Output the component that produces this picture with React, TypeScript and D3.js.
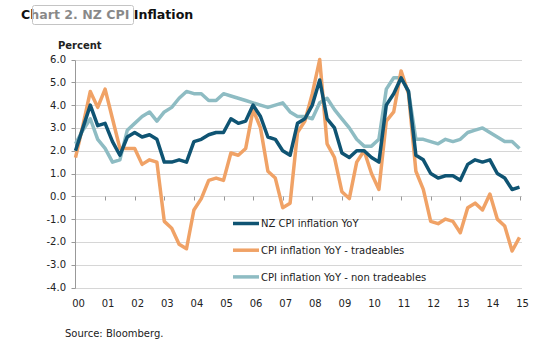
import React from "react";
import * as d3 from "d3";

// quarterly, 2000Q2 .. 2015Q2
const quarters = [
  "2000Q2", "2000Q3", "2000Q4",
  "2001Q1", "2001Q2", "2001Q3", "2001Q4",
  "2002Q1", "2002Q2", "2002Q3", "2002Q4",
  "2003Q1", "2003Q2", "2003Q3", "2003Q4",
  "2004Q1", "2004Q2", "2004Q3", "2004Q4",
  "2005Q1", "2005Q2", "2005Q3", "2005Q4",
  "2006Q1", "2006Q2", "2006Q3", "2006Q4",
  "2007Q1", "2007Q2", "2007Q3", "2007Q4",
  "2008Q1", "2008Q2", "2008Q3", "2008Q4",
  "2009Q1", "2009Q2", "2009Q3", "2009Q4",
  "2010Q1", "2010Q2", "2010Q3", "2010Q4",
  "2011Q1", "2011Q2", "2011Q3", "2011Q4",
  "2012Q1", "2012Q2", "2012Q3", "2012Q4",
  "2013Q1", "2013Q2", "2013Q3", "2013Q4",
  "2014Q1", "2014Q2", "2014Q3", "2014Q4",
  "2015Q1", "2015Q2",
];

const nzCpi = [
  2.0, 3.0, 4.0,
  3.1, 3.2, 2.4, 1.8,
  2.6, 2.8, 2.6, 2.7,
  2.5, 1.5, 1.5, 1.6,
  1.5, 2.4, 2.5, 2.7,
  2.8, 2.8, 3.4, 3.2,
  3.3, 4.0, 3.5, 2.6,
  2.5, 2.0, 1.8, 3.2,
  3.4, 4.0, 5.1, 3.4,
  3.0, 1.9, 1.7, 2.0,
  2.0, 1.7, 1.5, 4.0,
  4.5, 5.2, 4.6, 1.8,
  1.6, 1.0, 0.8, 0.9,
  0.9, 0.7, 1.4, 1.6,
  1.5, 1.6, 1.0, 0.8,
  0.3, 0.4,
];

const tradeables = [
  1.7, 3.1, 4.6,
  3.9, 4.7, 3.4, 2.1,
  2.1, 2.1, 1.4, 1.6,
  1.5, -1.1, -1.4, -2.1,
  -2.3, -0.6, -0.1, 0.7,
  0.8, 0.7, 1.9, 1.8,
  2.1, 3.8, 3.0, 1.1,
  0.8, -0.5, -0.3, 2.8,
  3.3, 4.5, 6.0, 2.3,
  1.7, 0.2, -0.1, 1.5,
  2.0, 1.0, 0.3, 3.3,
  3.7, 5.5, 4.5, 1.1,
  0.3, -1.1, -1.2, -1.0,
  -1.1, -1.6, -0.5, -0.3,
  -0.6, 0.1, -1.0, -1.3,
  -2.4, -1.8,
];

const nonTradeables = [
  2.3, 2.9, 3.4,
  2.5, 2.1, 1.5, 1.6,
  2.9, 3.2, 3.5, 3.7,
  3.3, 3.7, 3.9, 4.3,
  4.6, 4.5, 4.5, 4.2,
  4.2, 4.5, 4.4, 4.3,
  4.2, 4.1, 4.0, 3.9,
  4.0, 4.1, 3.7, 3.5,
  3.5, 3.4, 4.1, 4.3,
  3.8, 3.4, 3.0, 2.5,
  2.2, 2.2, 2.5, 4.7,
  5.2, 5.2, 4.6, 2.5,
  2.5, 2.4, 2.3, 2.5,
  2.4, 2.5, 2.8, 2.9,
  3.0, 2.8, 2.6, 2.4,
  2.4, 2.1,
];

const yearLabels = ["00", "01", "02", "03", "04", "05", "06", "07", "08", "09", "10", "11", "12", "13", "14", "15"];
const yTicks = [6, 5, 4, 3, 2, 1, 0, -1, -2, -3, -4];

const series = [
  { name: "NZ CPI inflation YoY", values: nzCpi, color: "#0f5473" },
  { name: "CPI inflation YoY - tradeables", values: tradeables, color: "#f0a266" },
  { name: "CPI inflation YoY - non tradeables", values: nonTradeables, color: "#8ebcc3" },
];

const font = "'DejaVu Sans', Verdana, sans-serif";

export default function App() {
  const left = 75.5;
  const right = 522;

  const x = d3.scalePoint<string>().domain(quarters).range([75.5, 519.5]);
  const y = d3.scaleLinear().domain([-4, 6]).range([287.5, 59.5]);
  const crisp = (v: number) => Math.round(v) + 0.5;

  const line = d3
    .line<number>()
    .x((_, i) => x(quarters[i]) as number)
    .y((d) => y(d));

  // year ticks sit on the Q2 point of each year
  const yearX = (yy: string) => x(`20${yy}Q2`) as number;

  return (
    <svg
      width={550}
      height={352}
      style={{ position: "absolute", left: 0, top: 0, background: "#fff" }}
      fontFamily={font}
    >
      {/* title */}
      <text x={21} y={18.5} fontSize={12.6} fontWeight="bold" fill="#111">
        Chart 2. NZ CPI Inflation
      </text>
      <rect x={32.5} y={5.5} width={101} height={19} rx={2} fill="#fff" fillOpacity={0.5} stroke="#c4c4c4" />

      <text x={58} y={49} fontSize={10} fontWeight="bold" fill="#222">
        Percent
      </text>

      {/* gridlines */}
      {yTicks.map((t) => (
        <line key={t} x1={left} x2={right} y1={crisp(y(t))} y2={crisp(y(t))} stroke="#d6d6d6" strokeWidth={1} />
      ))}
      {/* left axis */}
      <line x1={left} x2={left} y1={crisp(y(6))} y2={crisp(y(-4))} stroke="#999" />
      {yTicks.map((t) => (
        <g key={"yt" + t}>
          <line x1={left - 4} x2={left} y1={crisp(y(t))} y2={crisp(y(t))} stroke="#999" />
          <text x={66} y={y(t) + 3.5} fontSize={10} textAnchor="end" fill="#222">
            {t.toFixed(1)}
          </text>
        </g>
      ))}
      {/* x ticks on the zero line */}
      {yearLabels.slice(1).map((yy) => (
        <line
          key={"xt" + yy}
          x1={crisp(yearX(yy))}
          x2={crisp(yearX(yy))}
          y1={crisp(y(0))}
          y2={crisp(y(0)) + 4}
          stroke="#999"
        />
      ))}
      {yearLabels.map((yy, i) => (
        <text
          key={"xl" + yy}
          x={(i === 0 ? (x(quarters[0]) as number) : yearX(yy)) + 3}
          y={307}
          fontSize={10}
          textAnchor="middle"
          fill="#222"
        >
          {yy}
        </text>
      ))}

      {/* series */}
      {series
        .slice()
        .reverse()
        .map((s) => (
          <path key={s.name} d={line(s.values) || ""} fill="none" stroke={s.color} strokeWidth={3.5} strokeLinejoin="round" />
        ))}

      {/* legend */}
      {series.map((s, i) => {
        const ly = 223.5 + i * 26.7;
        return (
          <g key={"lg" + s.name}>
            <line x1={233} x2={259} y1={ly} y2={ly} stroke={s.color} strokeWidth={3.5} />
            <text x={261} y={ly + 3.7} fontSize={10} fill="#222">
              {s.name}
            </text>
          </g>
        );
      })}

      <text x={65} y={337} fontSize={10} fill="#222">
        Source: Bloomberg.
      </text>
    </svg>
  );
}
